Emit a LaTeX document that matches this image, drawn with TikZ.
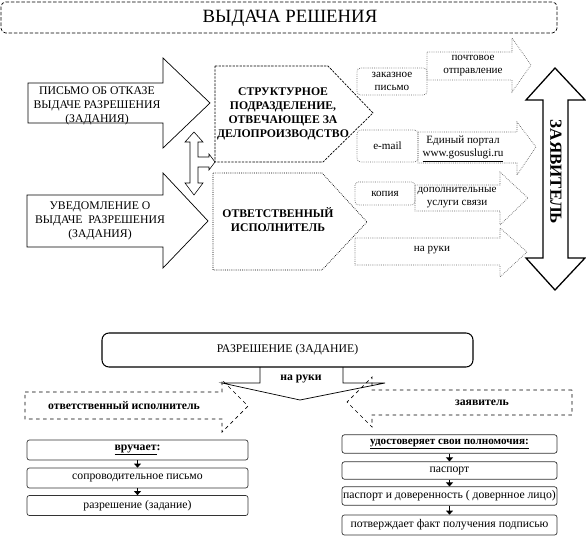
\documentclass[tikz,border=0pt]{standalone}
\usepackage{fontspec}
\setmainfont{Liberation Serif}
\usetikzlibrary{arrows.meta}

\begin{document}
\begin{tikzpicture}[x=0.03cm,y=-0.03cm,line width=0.6pt,
    txt/.style={font=\fontsize{10}{12}\selectfont,align=center,inner sep=0pt},
    btxt/.style={font=\fontsize{10}{12}\selectfont\bfseries,align=center,inner sep=0pt},
    stxt/.style={font=\fontsize{9.5}{11}\selectfont,align=center,inner sep=0pt},
    graybox/.style={draw=black!60,densely dotted,rounded corners=3pt,inner sep=0pt,
                    font=\fontsize{9.5}{11}\selectfont,align=center},
    grayarr/.style={draw=black!60,densely dotted},
    stepbox/.style={draw=black!80,rounded corners=2pt,inner sep=0pt,
                    font=\fontsize{10}{12}\selectfont,align=center},
    tinyarr/.style={line width=1pt,-{Triangle[width=6pt,length=3.5pt]}}]
    \useasboundingbox (0,0) rectangle (586,540);

    % Title
    \draw[dash pattern=on 3pt off 1.5pt,rounded corners=4pt] (1,2) rectangle (557,33);
    \node[font=\fontsize{16}{18}\selectfont,inner sep=0pt] (title) at (290,18) {ВЫДАЧА РЕШЕНИЯ};

    % Left arrows
    \draw (28,83) -- (163,83) -- (163,58) -- (210,103) -- (163,148) -- (163,123) -- (28,123) -- cycle;
    \node[txt] (refusal) at (97,106) {ПИСЬМО ОБ ОТКАЗЕ\\ВЫДАЧЕ РАЗРЕШЕНИЯ\\(ЗАДАНИЯ)};
    \draw (27,195) -- (163,195) -- (163,173) -- (208,221) -- (163,268) -- (163,247) -- (27,247) -- cycle;
    \node[txt] (notice) at (100,221) {УВЕДОМЛЕНИЕ О\\ВЫДАЧЕ\ \ РАЗРЕШЕНИЯ\\(ЗАДАНИЯ)};

    % Small link arrow between
    \draw[line width=0.5pt] (194,132) -- (203,142) -- (198,142) -- (198,157) -- (209,157) -- (209,154) -- (215,162)
        -- (209,170) -- (209,167) -- (198,167) -- (198,183) -- (203,183) -- (194,195) -- (185,183)
        -- (190,183) -- (190,142) -- (185,142) -- cycle;

    % Pentagons
    \draw[dash pattern=on 2pt off 1pt] (215,66) -- (328,66) -- (373,113) -- (323,162) -- (215,162) -- cycle;
    \node[btxt] (struct) at (283,114) {СТРУКТУРНОЕ\\ПОДРАЗДЕЛЕНИЕ,\\ОТВЕЧАЮЩЕЕ ЗА\\ДЕЛОПРОИЗВОДСТВО};
    \draw[densely dotted] (213,173) -- (322,173) -- (367,222) -- (322,270) -- (213,270) -- cycle;
    \node[btxt] (resp) at (278,220) {ОТВЕТСТВЕННЫЙ\\ИСПОЛНИТЕЛЬ};

    % Delivery ways
    \draw[grayarr] (427,52) -- (512,52) -- (512,38) -- (531,65) -- (512,92) -- (512,80) -- (427,80) -- cycle;
    \node[stxt] (post) at (473,66) {почтовое\\отправление};
    \node[graybox,minimum width=2.1cm,minimum height=0.81cm] (reg) at (392,81.5) {заказное\\письмо};

    \draw[grayarr] (418,132) -- (517,132) -- (517,122) -- (536,147) -- (517,175) -- (517,163) -- (418,163) -- cycle;
    \node[stxt] (portal) at (463,149) {Единый портал\\\underline{www.gosuslugi.ru}};
    \node[graybox,minimum width=1.83cm,minimum height=0.96cm] (email) at (387.5,146) {e-mail};

    \draw[grayarr] (415,185) -- (500,185) -- (500,172) -- (528,198) -- (500,225) -- (500,211) -- (415,211) -- cycle;
    \node[stxt] (extra) at (457,198) {дополнительные\\услуги связи};
    \node[graybox,minimum width=1.8cm,minimum height=0.69cm] (copy) at (385,193.5) {копия};

    \draw[grayarr] (355,238) -- (500,238) -- (500,228) -- (527,252) -- (500,277) -- (500,265) -- (355,265) -- cycle;
    \node[stxt] (hand) at (432,250) {на руки};

    % Applicant
    \draw[line width=1.1pt] (555,68) -- (585,100) -- (568,100) -- (568,258) -- (585,258) -- (555,290)
        -- (526,258) -- (543,258) -- (543,100) -- (526,100) -- cycle;
    \node[rotate=-90,font=\fontsize{14.5}{14}\selectfont\bfseries,inner sep=0pt] (applicant) at (556,172) {ЗАЯВИТЕЛЬ};

    % Bottom part
    \node[draw,line width=0.9pt,rounded corners=6pt,minimum width=11.13cm,minimum height=1.02cm,
          font=\fontsize{10}{12}\selectfont] (permit) at (287.5,350) {РАЗРЕШЕНИЕ (ЗАДАНИЕ)};
    \draw (260,367) -- (260,383) -- (222,383) -- (300,400) -- (385,383) -- (343,383) -- (343,367);
    \node[btxt] (handout) at (301,379) {на руки};

    \draw[dashed] (25,392) -- (222,392) -- (222,380) -- (248,406) -- (222,432) -- (222,419) -- (25,419) -- cycle;
    \node[btxt] (execut) at (124,406) {ответственный исполнитель};
    \draw[dashed] (572,390) -- (372,390) -- (372,377) -- (347,402) -- (372,427) -- (372,415) -- (572,415) -- cycle;
    \node[btxt] (appl) at (482,403) {заявитель};

    % Left stack
    \node[stepbox,minimum width=6.63cm,minimum height=0.6cm,font=\fontsize{10}{12}\selectfont\bfseries]
        (gives) at (137.5,450) {\underline{вручает}:};
    \node[stepbox,minimum width=6.63cm,minimum height=0.6cm] (letter) at (137.5,478) {сопроводительное письмо};
    \node[stepbox,minimum width=6.63cm,minimum height=0.6cm] (perm) at (137.5,505.5) {разрешение (задание)};
    \draw[tinyarr] (gives) -- (letter);
    \draw[tinyarr] (letter) -- (perm);

    % Right stack
    \node[stepbox,minimum width=6.45cm,minimum height=0.55cm,font=\fontsize{9.5}{12}\selectfont\bfseries]
        (proves) at (449.5,444) {\underline{удостоверяет свои полномочия:}};
    \node[stepbox,minimum width=6.45cm,minimum height=0.52cm] (pass) at (449.5,470.5) {паспорт};
    \node[stepbox,minimum width=6.45cm,minimum height=0.55cm] (proxy) at (449.5,496) {паспорт и доверенность ( довернное лицо)};
    \node[stepbox,minimum width=6.45cm,minimum height=0.6cm] (sign) at (449.5,525) {потверждает факт получения подписью};
    \draw[tinyarr] (proves) -- (pass);
    \draw[tinyarr] (pass) -- (proxy);
    \draw[tinyarr] (proxy) -- (sign);
\end{tikzpicture}
\end{document}
